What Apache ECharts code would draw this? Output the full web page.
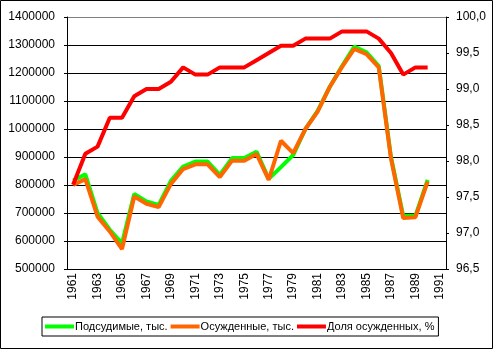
<!DOCTYPE html>
<html>
<head>
<meta charset="utf-8">
<script src="https://cdn.jsdelivr.net/npm/echarts@6/dist/echarts.min.js"></script>
<style>
html,body{margin:0;padding:0;background:#fff;}
#c{width:495px;height:350px;}
</style>
</head>
<body>
<div id="c"></div>
<script>
const years = ['1961','1962','1963','1964','1965','1966','1967','1968','1969','1970','1971','1972','1973','1974','1975','1976','1977','1978','1979','1980','1981','1982','1983','1984','1985','1986','1987','1988','1989','1990','1991'];
const defendants = [816000, 838000, 700000, 640000, 592000, 768000, 741000, 729000, 815000, 866000, 884000, 884000, 836000, 896000, 896000, 919000, 822000, 864000, 907000, 1000000, 1065000, 1151000, 1225000, 1294000, 1274000, 1225000, 900000, 690000, 690000, 818000];
const convicted = [800000, 821000, 687000, 634000, 571000, 759000, 733000, 721000, 804000, 857000, 874000, 874000, 828000, 887000, 887000, 911000, 818000, 958000, 914000, 1000000, 1062000, 1151000, 1222000, 1286000, 1267000, 1220000, 895000, 682000, 685000, 812000];
const share = [97.67, 98.1, 98.2, 98.6, 98.6, 98.9, 99.0, 99.0, 99.1, 99.3, 99.2, 99.2, 99.3, 99.3, 99.3, 99.4, 99.5, 99.6, 99.6, 99.7, 99.7, 99.7, 99.8, 99.8, 99.8, 99.7, 99.5, 99.2, 99.3, 99.3];
const seriesNames = ['Подсудимые, тыс.', 'Осужденные, тыс.', 'Доля осужденных, %'];

const font = "'Liberation Sans', Arial, sans-serif";
const chart = echarts.init(document.getElementById('c'), null, {renderer: 'canvas'});
const gridColors = ['#000','#000','#000','#000','#000','#000','#000','#000','#000','#808080'];
chart.setOption({
  animation: false,
  backgroundColor: '#fff',
  graphic: [{
    type: 'rect', silent: true, z: 100,
    shape: {x: 0.5, y: 0.5, width: 492, height: 348},
    style: {fill: 'none', stroke: '#000', lineWidth: 1}
  }],
  grid: {left: 67, top: 17, right: 49, bottom: 81, containLabel: false},
  legend: {
    left: 42, top: 317,
    padding: [4, 4, 4, 3],
    itemGap: 3,
    itemWidth: 29, itemHeight: 4,
    icon: 'rect',
    borderColor: '#000', borderWidth: 1,
    textStyle: {fontFamily: font, fontSize: 11, color: '#000', padding: [0, 0, 0, -4]},
    data: seriesNames
  },
  xAxis: {
    type: 'category',
    data: years,
    boundaryGap: true,
    axisLine: {lineStyle: {color: '#000', width: 1}},
    axisTick: {interval: 0, length: 4, lineStyle: {color: '#000'}},
    axisLabel: {interval: 1, rotate: 90, margin: 4, color: '#000', fontFamily: font, fontSize: 12}
  },
  yAxis: [{
    type: 'value',
    min: 500000, max: 1400000, interval: 100000,
    axisLine: {show: true, lineStyle: {color: '#000'}},
    axisTick: {show: true, length: 3, lineStyle: {color: '#000'}},
    axisLabel: {margin: 12, color: '#000', fontFamily: font, fontSize: 12,
      formatter: v => String(v)},
    splitLine: {show: true, lineStyle: {color: gridColors, width: 1}}
  }, {
    type: 'value',
    min: 96.5, max: 100, interval: 0.5,
    position: 'right',
    axisLine: {show: true, lineStyle: {color: '#000'}},
    axisTick: {show: true, length: 3, lineStyle: {color: '#000'}},
    axisLabel: {margin: 10, color: '#000', fontFamily: font, fontSize: 12,
      formatter: v => v.toFixed(1).replace('.', ',')},
    splitLine: {show: false}
  }],
  series: [{
    name: seriesNames[0], type: 'line', data: defendants, yAxisIndex: 0,
    showSymbol: false, symbol: 'none', color: '#00ff00',
    lineStyle: {color: '#00ff00', width: 4}
  }, {
    name: seriesNames[1], type: 'line', data: convicted, yAxisIndex: 0,
    showSymbol: false, symbol: 'none', color: '#ff6600',
    lineStyle: {color: '#ff6600', width: 4}
  }, {
    name: seriesNames[2], type: 'line', data: share, yAxisIndex: 1,
    showSymbol: false, symbol: 'none', color: '#ff0000',
    lineStyle: {color: '#ff0000', width: 4}
  }]
});
</script>
</body>
</html>
